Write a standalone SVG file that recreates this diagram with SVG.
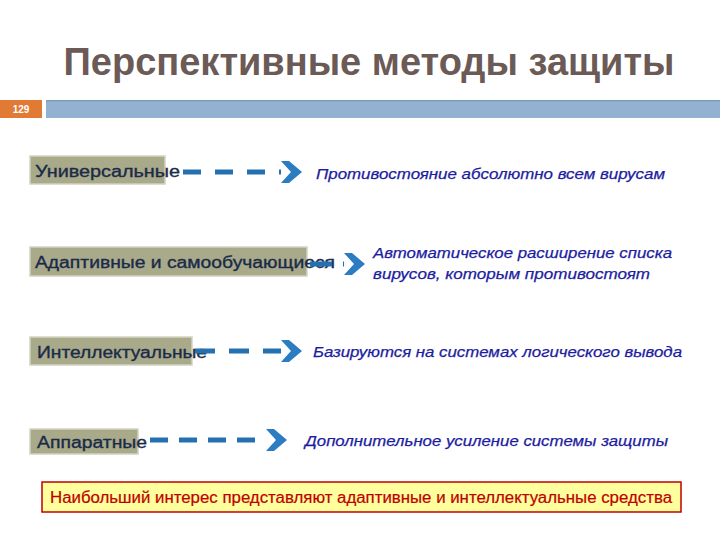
<svg xmlns="http://www.w3.org/2000/svg" width="720" height="540" viewBox="0 0 720 540">
<style>
.title{font-family:"Liberation Sans",Arial,sans-serif;font-weight:bold;font-size:38px;fill:#6b5a55}
.box{fill:#a9aa8a;stroke:#d2d2c2;stroke-width:1.5}
.lt{font-family:"Liberation Sans",Arial,sans-serif;font-size:16px;fill:#1b2a48;stroke:#1b2a48;stroke-width:0.35}
.rt{font-family:"Liberation Sans",Arial,sans-serif;font-style:italic;font-size:15px;fill:#1c1ca0;stroke:#1c1ca0;stroke-width:0.25}
.dash{fill:none;stroke:#2570b0;stroke-width:5}
.note{font-family:"Liberation Sans",Arial,sans-serif;font-size:16px;fill:#c00000;stroke:#c00000;stroke-width:0.2}
</style>
<defs>
<marker id="ah" markerUnits="userSpaceOnUse" markerWidth="24" markerHeight="26" viewBox="0 -12 24 24" refX="0" refY="0" orient="auto">
<path d="M0,-11 L8,-11 L21,0 L8,11 L0,11 L10,0 Z" fill="#2b7cc2"/>
</marker>
</defs>
<rect width="720" height="540" fill="#ffffff"/>
<g id="header">
<text class="title" x="369" y="75" text-anchor="middle">Перспективные методы защиты</text>
<rect x="0" y="100" width="42" height="18" fill="#e07a35"/>
<text x="21" y="113" text-anchor="middle" font-family="Liberation Sans, Arial, sans-serif" font-size="10" font-weight="bold" fill="#ffffff">129</text>
<rect x="46" y="100" width="674" height="18" fill="#93b2d2"/>
<rect x="46" y="100" width="674" height="1.5" fill="#7c9cbc"/>
</g>
<g id="n1">
<rect class="box" x="30" y="156" width="135" height="28"/>
<text class="lt" x="35" y="177" textLength="145" lengthAdjust="spacingAndGlyphs">Универсальные</text>
</g>
<g id="n2">
<rect class="box" x="30" y="247" width="277" height="29"/>
<text class="lt" x="35" y="268" textLength="300" lengthAdjust="spacingAndGlyphs">Адаптивные и самообучающиеся</text>
</g>
<g id="n3">
<rect class="box" x="30" y="337" width="162" height="28"/>
<text class="lt" x="37" y="358" textLength="170" lengthAdjust="spacingAndGlyphs">Интеллектуальные</text>
</g>
<g id="n4">
<rect class="box" x="30" y="429" width="108" height="25"/>
<text class="lt" x="37" y="448" textLength="110" lengthAdjust="spacingAndGlyphs">Аппаратные</text>
</g>
<g id="r1">
<text class="rt" x="316" y="179" textLength="349" lengthAdjust="spacingAndGlyphs">Противостояние абсолютно всем вирусам</text>
</g>
<g id="r2">
<text class="rt" x="373" y="258" textLength="299" lengthAdjust="spacingAndGlyphs">Автоматическое расширение списка</text>
<text class="rt" x="373" y="279" textLength="277" lengthAdjust="spacingAndGlyphs">вирусов, которым противостоят</text>
</g>
<g id="r3">
<text class="rt" x="313" y="357" textLength="369" lengthAdjust="spacingAndGlyphs">Базируются на системах логического вывода</text>
</g>
<g id="r4">
<text class="rt" x="305" y="446" textLength="363" lengthAdjust="spacingAndGlyphs">Дополнительное усиление системы защиты</text>
</g>
<g id="connectors">
<path class="dash" d="M183,172 H281" stroke-dasharray="18 14" marker-end="url(#ah)"/>
<path class="dash" d="M310,264 H344" stroke-dasharray="22 11" marker-end="url(#ah)"/>
<path class="dash" d="M195,351 H281" stroke-dasharray="20 14" marker-end="url(#ah)"/>
<path class="dash" d="M150,440 H266" stroke-dasharray="18 11" marker-end="url(#ah)"/>
</g>
<g id="note">
<rect x="42" y="482" width="639" height="30" fill="#ffff9e" stroke="#c00000" stroke-width="1.5"/>
<text class="note" x="50" y="503" textLength="622" lengthAdjust="spacingAndGlyphs">Наибольший интерес представляют адаптивные и интеллектуальные средства</text>
</g>
</svg>
